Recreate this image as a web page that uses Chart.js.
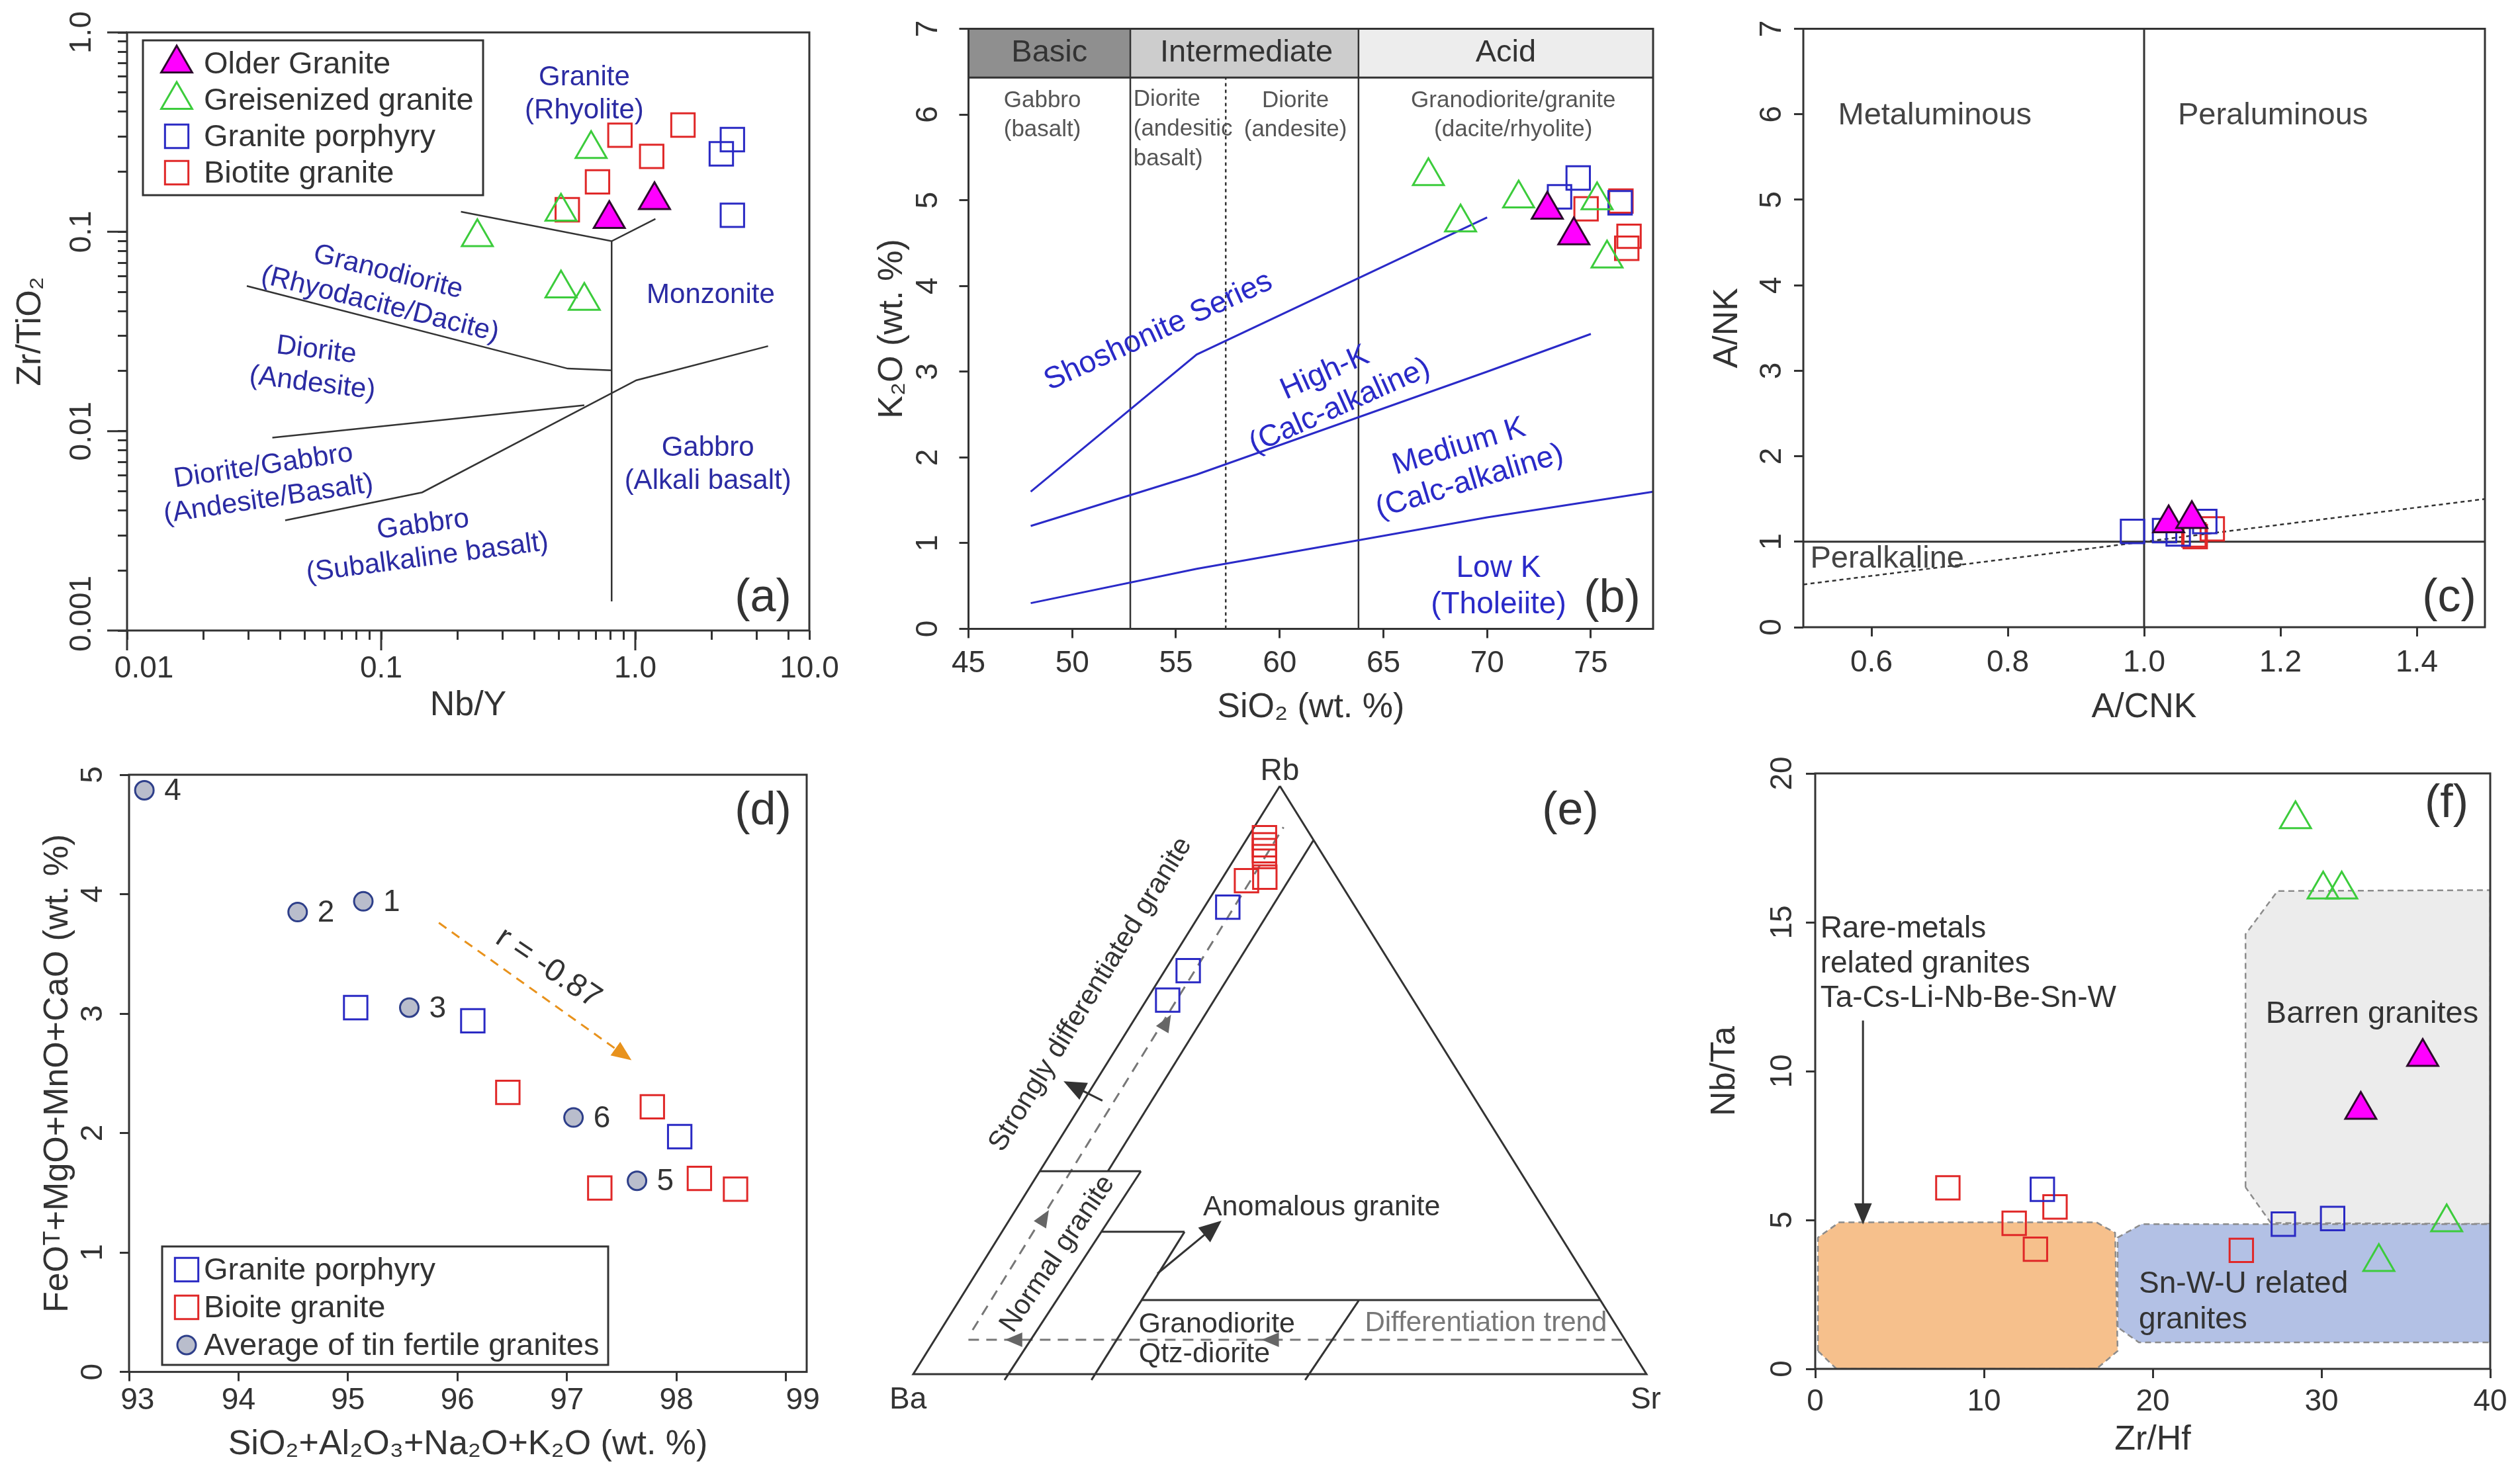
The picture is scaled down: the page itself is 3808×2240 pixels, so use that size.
<!DOCTYPE html>
<html lang="en">
<head>
<meta charset="utf-8">
<title>Granite geochemistry diagrams</title>
<script src="https://cdn.jsdelivr.net/npm/chart.js@4.4.1/dist/chart.umd.min.js"></script>
<style>
  html, body { margin: 0; padding: 0; background: #fff; }
  body { position: relative; width: 3808px; height: 2240px; overflow: hidden; }
  .panel { position: absolute; }
</style>
</head>
<body>
<div class="panel" style="left:0px;top:0px;width:1270px;height:1110px"><canvas id="panelA"></canvas></div>
<div class="panel" style="left:1290px;top:0px;width:1250px;height:1110px"><canvas id="panelB"></canvas></div>
<div class="panel" style="left:2560px;top:0px;width:1248px;height:1110px"><canvas id="panelC"></canvas></div>
<div class="panel" style="left:0px;top:1120px;width:1270px;height:1120px"><canvas id="panelD"></canvas></div>
<div class="panel" style="left:1290px;top:1120px;width:1250px;height:1120px"><canvas id="panelE"></canvas></div>
<div class="panel" style="left:2560px;top:1120px;width:1248px;height:1120px"><canvas id="panelF"></canvas></div>
<script>
// ---------- (a) Nb/Y vs Zr/TiO2 ----------
const aOlderNbY  = [0.79, 1.19];
const aOlderZrTi = [0.116, 0.144];
const aGreisNbY  = [0.67, 0.51, 0.239, 0.51, 0.63];
const aGreisZrTi = [0.26, 0.126, 0.094, 0.052, 0.045];
const aPorphNbY  = [2.41, 2.18, 2.41];
const aPorphZrTi = [0.29, 0.246, 0.121];
const aBiotNbY   = [0.87, 1.54, 1.16, 0.71, 0.54];
const aBiotZrTi  = [0.305, 0.343, 0.239, 0.178, 0.129];
const aFieldLines = [
  [[0.206, 0.126], [0.807, 0.0897], [1.2, 0.116]],
  [[0.807, 0.0897], [0.807, 0.0014]],
  [[0.0296, 0.0535], [0.542, 0.0206], [0.807, 0.0202]],
  [[0.0373, 0.00927], [0.63, 0.0135]],
  [[0.0419, 0.00357], [0.145, 0.00493], [1.01, 0.018], [3.33, 0.0267]]
];
const aXMajor = [0.01, 0.1, 1];
const aXMax = 4.84;
const aXTickText = ['0.01', '0.1', '1.0', '10.0'];
const aYMajor = [0.001, 0.01, 0.1, 1];
const aYTickText = ['0.001', '0.01', '0.1', '1.0'];

// ---------- (b) SiO2 vs K2O ----------
const bOlderSi = [72.9, 74.18];
const bOlderK  = [4.89, 4.59];
const bGreisSi = [67.17, 68.72, 71.52, 75.3, 75.78];
const bGreisK  = [5.28, 4.74, 5.02, 5.0, 4.32];
const bPorphSi = [74.39, 73.49, 76.41];
const bPorphK  = [5.26, 5.04, 4.97];
const bBiotSi  = [74.77, 76.45, 76.84, 76.73];
const bBiotK   = [4.90, 4.99, 4.58, 4.44];
const bSeriesLines = [
  [[48, 1.6], [56, 3.2], [70, 4.8]],
  [[48, 1.2], [56, 1.8], [63, 2.4], [70, 3.0], [75, 3.44]],
  [[48, 0.3], [56, 0.7], [63, 1.0], [70, 1.3], [78, 1.6]]
];
const bBandNames = ['Basic', 'Intermediate', 'Acid'];
const bBandEdges = [45, 52.8, 63.8, 78];
const bXTicks = [45, 50, 55, 60, 65, 70, 75];
const bYTicks = [0, 1, 2, 3, 4, 5, 6, 7];

// ---------- (c) A/CNK vs A/NK ----------
const cOlderACNK = [1.036, 1.07];
const cOlderANK  = [1.215, 1.265];
const cPorphACNK = [0.983, 1.03, 1.089, 1.05];
const cPorphANK  = [1.12, 1.13, 1.236, 1.09];
const cBiotACNK  = [1.1, 1.073, 1.075];
const cBiotANK   = [1.15, 1.08, 1.06];
const cXTicks = [0.6, 0.8, 1.0, 1.2, 1.4];
const cYTicks = [0, 1, 2, 3, 4, 5, 6, 7];

// ---------- (d) felsic sum vs mafic sum ----------
const dTinSum   = [95.14, 94.54, 95.56, 93.14, 97.64, 97.06];
const dTinMafic = [3.94, 3.85, 3.05, 4.87, 1.60, 2.13];
const dTinIds   = ['1', '2', '3', '4', '5', '6'];
const dPorphSum   = [95.07, 96.14, 98.03];
const dPorphMafic = [3.05, 2.94, 1.97];
const dBiotSum    = [96.46, 97.78, 97.3, 98.21, 98.54];
const dBiotMafic  = [2.34, 2.22, 1.54, 1.62, 1.53];
const dXTicks = [93, 94, 95, 96, 97, 98, 99];
const dYTicks = [0, 1, 2, 3, 4, 5];

// ---------- (e) Rb-Ba-Sr ternary, points as [Rb, Sr] (Ba = rest) ----------
const eBiot  = [[91.2, 2.3], [90.0, 2.9], [89.0, 3.4], [88.0, 3.9], [83.9, 3.5], [84.5, 5.7]];
const ePorph = [[79.4, 3.2], [68.6, 3.2], [63.6, 2.9]];
const eFieldLines = [
  [[100, 0], [0, 0], [0, 100], [100, 0]],
  [[90.8, 9.2], [34.5, 9.3]],
  [[34.5, 0], [34.5, 13.8]],
  [[34.5, 13.8], [-1, 12.95]],
  [[24.2, 13.56], [24.2, 24.9]],
  [[24.2, 24.9], [-1, 24.8]],
  [[12.6, 24.85], [12.6, 87.4]],
  [[12.5, 54.5], [-1, 53.95]]
];
const eTrendLines = [
  [[7.5, 4.35], [93, 4.0]],
  [[5.85, 4.6], [5.85, 93.8]]
];

// ---------- (f) Zr/Hf vs Nb/Ta ----------
const fOlderZrHf = [36.0, 32.33];
const fOlderNbTa = [10.48, 8.7];
const fGreisZrHf = [28.46, 30.1, 31.2, 37.42, 33.4];
const fGreisNbTa = [18.46, 16.1, 16.1, 4.92, 3.59];
const fPorphZrHf = [13.46, 27.74, 30.66];
const fPorphNbTa = [6.03, 4.86, 5.05];
const fBiotZrHf  = [7.86, 11.79, 13.05, 14.21, 25.25];
const fBiotNbTa  = [6.08, 4.89, 4.02, 5.44, 3.98];
const fRareMetalField = [[0.16, 0.6], [0.16, 4.41], [1.42, 4.92], [16.67, 4.92], [17.77, 4.57], [17.92, 0.6], [16.67, 0], [1.26, 0], [0.16, 0.6]];
const fSnWUField = [[17.92, 1.4], [17.92, 4.41], [19.34, 4.86], [40, 4.86], [40, 0.89], [19.18, 0.89], [17.92, 1.4]];
const fBarrenField = [[25.5, 6.1], [25.5, 14.6], [27.4, 16.05], [40, 16.08], [40, 4.87], [27.0, 4.9], [25.5, 6.1]];
const fXTicks = [0, 10, 20, 30, 40];
const fYTicks = [0, 5, 10, 15, 20];

// ---------- styling ----------
const FONT = "'Liberation Sans', Arial, Helvetica, sans-serif";
const INK = '#333333';
const FIELD_BLUE = '#2b2ba3';
const CLEAR = 'rgba(0,0,0,0)';
Chart.defaults.font.family = FONT;

const STYLE = {
  older: {label: 'Older Granite', shape: 'triangle', r: 27, fill: '#ff00ff', edge: '#2d0a2d'},
  greis: {label: 'Greisenized granite', shape: 'triangle', r: 27, fill: CLEAR, edge: '#3ccc3c'},
  porph: {label: 'Granite porphyry', shape: 'rect', r: 25, fill: CLEAR, edge: '#2a2ac4'},
  biot:  {label: 'Biotite granite', shape: 'rect', r: 25, fill: CLEAR, edge: '#e02828'},
  tin:   {label: 'Average of tin fertile granites', shape: 'circle', r: 14, fill: '#b9bdcc', edge: '#2e3f8a'}
};

const pts = (xs, ys) => xs.map((x, i) => ({x, y: ys[i]}));
const path = arr => arr.map(([x, y]) => ({x, y}));
const SQ3 = Math.sqrt(3) / 2;
const tern = ([rb, sr]) => ({x: sr + rb / 2, y: rb * SQ3});

function series(kind, data, extra) {
  const s = STYLE[kind];
  return Object.assign({
    label: s.label, data,
    pointStyle: s.shape, pointRadius: s.r,
    pointBackgroundColor: s.fill, pointBorderColor: s.edge, pointBorderWidth: 3,
    backgroundColor: s.fill, borderColor: s.edge, borderWidth: 3,
    inLegend: true, clip: false
  }, extra || {});
}

function line(data, color, width, dash) {
  return {
    data, showLine: true, pointRadius: 0, borderColor: color, borderWidth: width,
    borderDash: dash || [], fill: false, tension: 0, clip: false
  };
}

function area(data, color) {
  return {
    data, showLine: true, pointRadius: 0, borderColor: '#8c8c8c', borderWidth: 2.5,
    borderDash: [9, 6], backgroundColor: color, fill: 'shape', tension: 0
  };
}

function logTicks(majors, labels, max) {
  const vals = [], texts = [];
  majors.forEach((d, k) => {
    vals.push(d); texts.push(labels[k]);
    for (let m = 2; m <= 9; m++) {
      if (m * d < max * 0.999) { vals.push(m * d); texts.push(''); }
    }
  });
  if (labels.length > majors.length) { vals.push(max); texts.push(labels[majors.length]); }
  return {vals, texts};
}

// nudges a tick label along its axis by padding it with leading spaces
const nudge = (text, n) => ' '.repeat(n) + text;

function axis(o) {
  const left = o.pos === 'left';
  const last = o.ticks.length - 1;
  return {
    type: o.type || 'linear',
    position: o.pos,
    min: o.min, max: o.max,
    afterFit(s) {
      if (left) s.width = o.size; else s.height = o.size;
      s.paddingLeft = s.paddingRight = s.paddingTop = s.paddingBottom = 0;
    },
    afterBuildTicks(s) { s.ticks = o.ticks.map(v => ({value: v})); },
    border: {display: false},
    grid: {drawOnChartArea: false, drawTicks: true, tickLength: 14, tickWidth: 3, tickColor: INK},
    ticks: {
      autoSkip: false, color: INK, font: {family: FONT, size: 46},
      padding: o.tickPad,
      minRotation: left ? 90 : 0, maxRotation: left ? 90 : 0,
      crossAlign: left ? 'center' : 'near',
      callback: (v, i) => {
        const t = o.labels ? o.labels[i] : String(v);
        if (i === 0 && o.leadFirst) return nudge(t, o.leadFirst);
        if (i === last && o.leadLast) return nudge(t, o.leadLast);
        return t;
      }
    },
    title: {
      display: true, text: o.title, color: INK, font: {family: FONT, size: 52},
      padding: left ? {top: o.titlePad, bottom: 0} : {top: 0, bottom: o.titlePad}
    }
  };
}

// ---------- plugins ----------
const framePlugin = {
  id: 'frame',
  afterDatasetsDraw(chart, args, o) {
    const {ctx, chartArea: a, scales: {x, y}} = chart;
    ctx.save();
    ctx.strokeStyle = INK;
    ctx.lineWidth = 3;
    ctx.strokeRect(a.left, a.top, a.right - a.left, a.bottom - a.top);
    // longer marks for the decades of a log axis
    const len = o.majorLen || 0;
    ctx.beginPath();
    (o.majorX || []).forEach(v => {
      const px = x.getPixelForValue(v);
      ctx.moveTo(px, a.bottom); ctx.lineTo(px, a.bottom + len);
    });
    (o.majorY || []).forEach(v => {
      const py = y.getPixelForValue(v);
      ctx.moveTo(a.left, py); ctx.lineTo(a.left - len, py);
    });
    ctx.stroke();
    ctx.restore();
  }
};

const notesPlugin = {
  id: 'notes',
  afterDatasetsDraw(chart, args, opts) {
    const {ctx, scales: {x, y}} = chart;
    (opts.items || []).forEach(n => {
      const size = n.size || 42;
      const lines = [].concat(n.text);
      const lh = size * (n.lh || 1.2);
      ctx.save();
      ctx.translate(x.getPixelForValue(n.x), y.getPixelForValue(n.y));
      ctx.rotate((n.rot || 0) * Math.PI / 180);
      ctx.font = `${size}px ${FONT}`;
      ctx.fillStyle = n.color || INK;
      ctx.textAlign = n.align || 'center';
      ctx.textBaseline = 'middle';
      lines.forEach((t, i) => ctx.fillText(t, 0, (i - (lines.length - 1) / 2) * lh));
      ctx.restore();
    });
  }
};

const arrowsPlugin = {
  id: 'arrows',
  afterDatasetsDraw(chart, args, opts) {
    const {ctx, scales: {x, y}} = chart;
    (opts.items || []).forEach(a => {
      const x1 = x.getPixelForValue(a.from.x), y1 = y.getPixelForValue(a.from.y);
      const x2 = x.getPixelForValue(a.to.x), y2 = y.getPixelForValue(a.to.y);
      const ang = Math.atan2(y2 - y1, x2 - x1);
      const hl = a.head || 30, hw = hl * 0.42;
      const c = Math.cos(ang), s = Math.sin(ang);
      ctx.save();
      ctx.strokeStyle = ctx.fillStyle = a.color || INK;
      ctx.lineWidth = a.width || 3;
      if (!a.headOnly) {
        ctx.setLineDash(a.dash || []);
        ctx.beginPath();
        ctx.moveTo(x1, y1);
        ctx.lineTo(x2 - c * hl * 0.8, y2 - s * hl * 0.8);
        ctx.stroke();
        ctx.setLineDash([]);
      }
      ctx.beginPath();
      ctx.moveTo(x2, y2);
      ctx.lineTo(x2 - hl * c + hw * s, y2 - hl * s - hw * c);
      ctx.lineTo(x2 - hl * c - hw * s, y2 - hl * s + hw * c);
      ctx.closePath();
      ctx.fill();
      ctx.restore();
    });
  }
};

const pointTextPlugin = {
  id: 'pointText',
  afterDatasetsDraw(chart) {
    const {ctx} = chart;
    chart.data.datasets.forEach((ds, i) => {
      if (!ds.pointText) return;
      chart.getDatasetMeta(i).data.forEach((el, j) => {
        ctx.save();
        ctx.font = `46px ${FONT}`;
        ctx.fillStyle = INK;
        ctx.textAlign = 'left';
        ctx.textBaseline = 'middle';
        ctx.fillText(ds.pointText[j], el.x + 30, el.y + 2);
        ctx.restore();
      });
    });
  }
};

const tagPlugin = {
  id: 'tag',
  afterDraw(chart, args, o) {
    if (!o.text) return;
    const {ctx, chartArea: a} = chart;
    ctx.save();
    ctx.font = `70px ${FONT}`;
    ctx.fillStyle = INK;
    ctx.textAlign = 'center';
    ctx.textBaseline = 'middle';
    ctx.fillText(o.text, a.right + o.dx, o.fromTop ? a.top + o.dy : a.bottom + o.dy);
    ctx.restore();
  }
};

function drawMarker(ctx, ds, x, y) {
  ctx.save();
  ctx.fillStyle = ds.pointBackgroundColor;
  ctx.strokeStyle = ds.pointBorderColor;
  ctx.lineWidth = ds.pointBorderWidth;
  Chart.helpers.drawPoint(ctx, {
    pointStyle: ds.pointStyle, radius: ds.pointRadius, borderWidth: ds.pointBorderWidth, rotation: 0
  }, x, y);
  ctx.restore();
}

const boxLegendPlugin = {
  id: 'boxLegend',
  afterDraw(chart, args, o) {
    if (!o.w) return;
    const {ctx, chartArea: a} = chart;
    const left = a.left + o.x;
    const top = o.fromBottom ? a.bottom - o.y - o.h : a.top + o.y;
    ctx.save();
    ctx.fillStyle = '#fff';
    ctx.fillRect(left, top, o.w, o.h);
    ctx.strokeStyle = INK;
    ctx.lineWidth = 3;
    ctx.strokeRect(left, top, o.w, o.h);
    const items = chart.data.datasets.filter(d => d.inLegend);
    items.forEach((ds, i) => {
      const cy = top + o.row0 + i * o.gap;
      drawMarker(ctx, ds, left + o.mx, cy);
      ctx.font = `47px ${FONT}`;
      ctx.fillStyle = INK;
      ctx.textAlign = 'left';
      ctx.textBaseline = 'middle';
      ctx.fillText(ds.label, left + o.tx, cy + 2);
    });
    ctx.restore();
  }
};

function panel(id, cfg) {
  return new Chart(document.getElementById(id), {
    type: 'scatter',
    data: {datasets: cfg.datasets},
    options: {
      responsive: true, maintainAspectRatio: false, animation: false, events: [],
      layout: {padding: cfg.pad},
      scales: {x: cfg.x, y: cfg.y},
      plugins: {
        legend: {display: false},
        tooltip: {enabled: false},
        frame: cfg.frame === false ? false : (cfg.frame || {}),
        notes: {items: cfg.notes || []},
        arrows: {items: cfg.arrows || []},
        tag: cfg.tag || {},
        boxLegend: cfg.legend || {}
      }
    },
    plugins: [framePlugin, notesPlugin, arrowsPlugin, pointTextPlugin, tagPlugin, boxLegendPlugin]
  });
}

// ---------- (a) ----------
const aX = logTicks(aXMajor, aXTickText, aXMax);
const aY = logTicks(aYMajor, aYTickText, 1);
panel('panelA', {
  pad: {left: 0, top: 49, right: 47, bottom: 0},
  x: axis({type: 'logarithmic', pos: 'bottom', min: 0.01, max: aXMax, ticks: aX.vals, labels: aX.texts,
           leadFirst: 4, size: 157, tickPad: 17, title: 'Nb/Y', titlePad: 12}),
  y: axis({type: 'logarithmic', pos: 'left', min: 0.001, max: 1, ticks: aY.vals, labels: aY.texts,
           leadFirst: 4, size: 192, tickPad: -29, title: 'Zr/TiO\u2082', titlePad: 15}),
  frame: {majorX: aXMajor, majorY: aYMajor, majorLen: 30},
  datasets: [
    series('older', pts(aOlderNbY, aOlderZrTi)),
    series('greis', pts(aGreisNbY, aGreisZrTi)),
    series('porph', pts(aPorphNbY, aPorphZrTi)),
    series('biot', pts(aBiotNbY, aBiotZrTi)),
    ...aFieldLines.map(l => line(path(l), INK, 2.5))
  ],
  notes: [
    {text: ['Granite', '(Rhyolite)'], x: 0.63, y: 0.49, color: FIELD_BLUE},
    {text: ['Granodiorite', '(Rhyodacite/Dacite)'], x: 0.1026, y: 0.052, rot: 14, color: FIELD_BLUE},
    {text: ['Diorite', '(Andesite)'], x: 0.0546, y: 0.021, rot: 7, color: FIELD_BLUE},
    {text: 'Monzonite', x: 1.98, y: 0.048, color: FIELD_BLUE},
    {text: ['Diorite/Gabbro', '(Andesite/Basalt)'], x: 0.0352, y: 0.0055, rot: -8.5, color: FIELD_BLUE},
    {text: ['Gabbro', '(Alkali basalt)'], x: 1.93, y: 0.0068, color: FIELD_BLUE},
    {text: ['Gabbro', '(Subalkaline basalt)'], x: 0.149, y: 0.0028, rot: -7.5, color: FIELD_BLUE}
  ],
  legend: {x: 24, y: 12, w: 514, h: 234, row0: 35, gap: 55, mx: 51, tx: 92},
  tag: {text: '(a)', dx: -70, dy: -48}
});

// ---------- (b) ----------
const bBandFills = ['#8f8f8f', '#cdcdcd', '#ededed'];
panel('panelB', {
  pad: {left: 0, top: 43.5, right: 42, bottom: 0},
  x: axis({pos: 'bottom', min: 45, max: 78, ticks: bXTicks, size: 159.5, tickPad: 11,
           title: 'SiO\u2082 (wt. %)', titlePad: 9}),
  y: axis({pos: 'left', min: 0, max: 7, ticks: bYTicks, size: 173.5, tickPad: 33,
           title: 'K\u2082O (wt. %)', titlePad: 27}),
  datasets: [
    series('older', pts(bOlderSi, bOlderK)),
    series('greis', pts(bGreisSi, bGreisK)),
    series('porph', pts(bPorphSi, bPorphK)),
    series('biot', pts(bBiotSi, bBiotK)),
    ...bSeriesLines.map(l => line(path(l), '#2a2ac8', 3)),
    line([{x: 45, y: 6.43}, {x: 78, y: 6.43}], INK, 3),
    line([{x: bBandEdges[1], y: 0}, {x: bBandEdges[1], y: 7}], INK, 2.5),
    line([{x: bBandEdges[2], y: 0}, {x: bBandEdges[2], y: 7}], INK, 2.5),
    line([{x: 57.4, y: 0}, {x: 57.4, y: 6.43}], INK, 2.5, [5, 5]),
    ...bBandNames.map((n, i) => ({
      data: [{x: bBandEdges[i], y: 7}, {x: bBandEdges[i + 1], y: 7}],
      showLine: true, pointRadius: 0, borderWidth: 0, backgroundColor: bBandFills[i],
      fill: {value: 6.43}
    }))
  ],
  notes: [
    {text: 'Basic', x: 48.9, y: 6.715, size: 47},
    {text: 'Intermediate', x: 58.4, y: 6.715, size: 47},
    {text: 'Acid', x: 70.9, y: 6.715, size: 47},
    {text: ['Gabbro', '(basalt)'], x: 48.56, y: 5.99, size: 35, lh: 1.28, color: '#555'},
    {text: ['Diorite', '(andesitic', 'basalt)'], x: 52.95, y: 5.83, size: 35, lh: 1.28, align: 'left', color: '#555'},
    {text: ['Diorite', '(andesite)'], x: 60.76, y: 5.99, size: 35, lh: 1.28, color: '#555'},
    {text: ['Granodiorite/granite', '(dacite/rhyolite)'], x: 71.26, y: 5.99, size: 35, lh: 1.28, color: '#555'},
    {text: 'Shoshonite Series', x: 54.15, y: 3.47, rot: -24.6, size: 46, color: '#2a2ac8'},
    {text: ['High-K', '(Calc-alkaline)'], x: 62.54, y: 2.79, rot: -24, size: 46, color: '#2a2ac8'},
    {text: ['Medium K', '(Calc-alkaline)'], x: 68.9, y: 1.92, rot: -16.8, size: 46, color: '#2a2ac8'},
    {text: ['Low K', '(Tholeiite)'], x: 70.55, y: 0.49, size: 46, color: '#2a2ac8'}
  ],
  tag: {text: '(b)', dx: -62, dy: -45}
});

// ---------- (c) ----------
panel('panelC', {
  pad: {left: 0, top: 43.5, right: 53, bottom: 0},
  x: axis({pos: 'bottom', min: 0.5, max: 1.5, ticks: cXTicks, labels: cXTicks.map(v => v.toFixed(1)),
           size: 162, tickPad: 13, title: 'A/CNK', titlePad: 9}),
  y: axis({pos: 'left', min: 0, max: 7, ticks: cYTicks, size: 165, tickPad: 20,
           title: 'A/NK', titlePad: 19}),
  datasets: [
    series('older', pts(cOlderACNK, cOlderANK)),
    series('porph', pts(cPorphACNK, cPorphANK)),
    series('biot', pts(cBiotACNK, cBiotANK)),
    line([{x: 1, y: 0}, {x: 1, y: 7}], INK, 3),
    line([{x: 0.5, y: 1}, {x: 1.5, y: 1}], INK, 3),
    line([{x: 0.5, y: 0.5}, {x: 1.5, y: 1.5}], INK, 2.5, [6, 5])
  ],
  notes: [
    {text: 'Metaluminous', x: 0.693, y: 5.98, size: 47, color: '#444'},
    {text: 'Peraluminous', x: 1.189, y: 5.98, size: 47, color: '#444'},
    {text: 'Peralkaline', x: 0.623, y: 0.8, size: 47, color: '#444'}
  ],
  tag: {text: '(c)', dx: -54, dy: -43}
});

// ---------- (d) ----------
panel('panelD', {
  pad: {left: 0, top: 51, right: 51, bottom: 0},
  x: axis({pos: 'bottom', min: 93, max: 99.19, ticks: dXTicks, leadFirst: 2, leadLast: 4,
           size: 166.4, tickPad: 2,
           title: 'SiO\u2082+Al\u2082O\u2083+Na\u2082O+K\u2082O (wt. %)', titlePad: 25}),
  y: axis({pos: 'left', min: 0, max: 5, ticks: dYTicks, size: 195, tickPad: 27,
           title: 'FeO\u1D40+MgO+MnO+CaO (wt. %)', titlePad: 56}),
  datasets: [
    series('porph', pts(dPorphSum, dPorphMafic)),
    series('biot', pts(dBiotSum, dBiotMafic), {label: 'Bioite granite'}),
    series('tin', pts(dTinSum, dTinMafic), {pointText: dTinIds})
  ],
  arrows: [
    {from: {x: 95.83, y: 3.76}, to: {x: 97.59, y: 2.61}, color: '#e8921c', dash: [14, 10], width: 3, head: 30}
  ],
  notes: [
    {text: 'r = -0.87', x: 96.83, y: 3.38, rot: 34, size: 48}
  ],
  legend: {x: 50, y: 10.6, fromBottom: true, w: 674, h: 179, row0: 35, gap: 57, mx: 37, tx: 63},
  tag: {text: '(d)', dx: -66, dy: 56, fromTop: true}
});

// ---------- (e) ----------
panel('panelE', {
  pad: {left: 90, top: 68, right: 52, bottom: 163},
  x: {type: 'linear', display: false, min: 0, max: 100},
  y: {type: 'linear', display: false, min: 0, max: 100 * SQ3},
  frame: false,
  datasets: [
    series('porph', ePorph.map(tern)),
    series('biot', eBiot.map(tern)),
    ...eFieldLines.map(l => line(l.map(tern), INK, 3)),
    ...eTrendLines.map(l => line(l.map(tern), '#777', 3, [16, 11]))
  ],
  arrows: [
    {from: tern([17.1, 24.75]), to: tern([26.1, 29.0]), head: 34},
    {from: tern([46.5, 2.55]), to: tern([49.8, -4.4]), head: 34},
    {from: tern([56, 4.75]), to: tern([61.1, 4.6]), head: 26, headOnly: true, color: '#666'},
    {from: tern([23, 4.6]), to: tern([27.9, 4.55]), head: 26, headOnly: true, color: '#666'},
    {from: tern([5.85, 14]), to: tern([5.85, 9.6]), head: 26, headOnly: true, color: '#666'},
    {from: tern([5.85, 49]), to: tern([5.85, 44.6]), head: 26, headOnly: true, color: '#666'}
  ],
  notes: [
    {text: 'Rb', x: 50, y: 88.7, size: 46},
    {text: 'Ba', x: -0.7, y: -3.8, size: 46},
    {text: 'Sr', x: 99.9, y: -3.8, size: 46},
    {text: 'Strongly differentiated granite', x: 24.2, y: 55.9, rot: -58.5, size: 42},
    {text: 'Normal granite', x: 19.7, y: 17.7, rot: -56, size: 42},
    {text: 'Anomalous granite', x: 55.7, y: 24.55, size: 43},
    {text: 'Granodiorite', x: 41.4, y: 7.33, size: 43},
    {text: 'Qtz-diorite', x: 39.7, y: 2.95, size: 43},
    {text: 'Differentiation trend', x: 78.1, y: 7.5, size: 42, color: '#777'}
  ],
  tag: {text: '(e)', dx: -115, dy: 39, fromTop: true}
});

// ---------- (f) ----------
panel('panelF', {
  pad: {left: 0, top: 49, right: 45, bottom: 0},
  x: axis({pos: 'bottom', min: 0, max: 40, ticks: fXTicks, size: 171, tickPad: 9,
           title: 'Zr/Hf', titlePad: 32}),
  y: axis({pos: 'left', min: 0, max: 20, ticks: fYTicks, size: 183, tickPad: 9,
           title: 'Nb/Ta', titlePad: 15}),
  datasets: [
    series('older', pts(fOlderZrHf, fOlderNbTa)),
    series('greis', pts(fGreisZrHf, fGreisNbTa)),
    series('porph', pts(fPorphZrHf, fPorphNbTa)),
    series('biot', pts(fBiotZrHf, fBiotNbTa)),
    area(path(fRareMetalField), '#f6c08c'),
    area(path(fSnWUField), '#b3c1e5'),
    area(path(fBarrenField), '#ececec')
  ],
  arrows: [
    {from: {x: 2.83, y: 11.7}, to: {x: 2.83, y: 4.85}, head: 32}
  ],
  notes: [
    {text: ['Rare-metals', 'related granites', 'Ta-Cs-Li-Nb-Be-Sn-W'], x: 0.3, y: 13.6, align: 'left', size: 46, lh: 1.14},
    {text: 'Barren granites', x: 33.0, y: 11.9, size: 47},
    {text: ['Sn-W-U related', 'granites'], x: 19.18, y: 2.23, align: 'left', size: 46, lh: 1.17}
  ],
  tag: {text: '(f)', dx: -66, dy: 47, fromTop: true}
});
</script>
</body>
</html>
